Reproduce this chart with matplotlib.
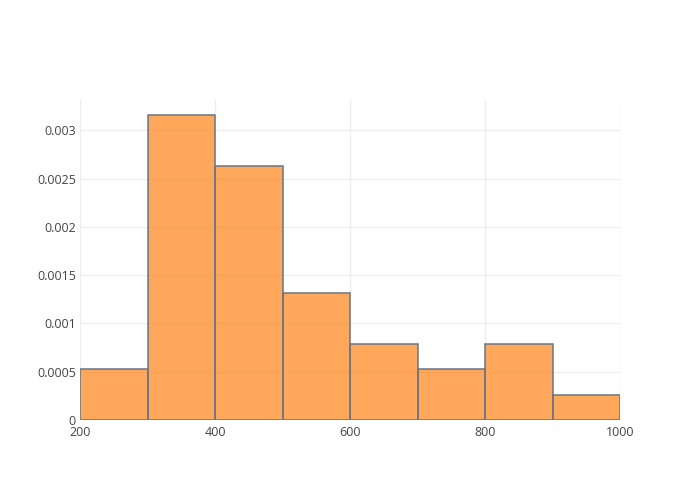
import matplotlib
matplotlib.use('Agg')
import matplotlib.pyplot as plt

# ── Data: histogram bins (width 100) and probability density ──────────────────
bin_left = [200, 300, 400, 500, 600, 700, 800, 900]
density = [0.000526, 0.003158, 0.002632, 0.001316, 0.000789, 0.000526, 0.000789, 0.000263]
x_ticks = [200, 400, 600, 800, 1000]
y_ticks = [0, 0.0005, 0.001, 0.0015, 0.002, 0.0025, 0.003]
y_tick_labels = ['0', '0.0005', '0.001', '0.0015', '0.002', '0.0025', '0.003']

plt.rcParams['font.family'] = ['Open Sans', 'DejaVu Sans']

fig = plt.figure(figsize=(7, 5), dpi=100)
ax = fig.add_axes([80 / 700, 80 / 500, 540 / 700, 320 / 500])

ax.bar(bin_left, density, width=100, align='edge',
       color='#ff7f0e', alpha=0.68, edgecolor='none', zorder=3)
# bar outlines at full opacity
ax.bar(bin_left, density, width=100, align='edge',
       color='none', edgecolor='#6b7584', linewidth=1.1, zorder=4)

ax.set_xlim(200, 1000)
ax.set_ylim(0, max(density) * 1.05)
ax.set_xticks(x_ticks)
ax.set_yticks(y_ticks)
ax.set_yticklabels(y_tick_labels)

ax.grid(True, color='#eeeeee', linewidth=1, zorder=0)
for s in ax.spines.values():
    s.set_visible(False)
ax.tick_params(length=0, labelsize=9, labelcolor='#444444')
ax.tick_params(axis='y', pad=3)
ax.tick_params(axis='x', pad=4)

fig.savefig('out.png', dpi=100, facecolor='white')
